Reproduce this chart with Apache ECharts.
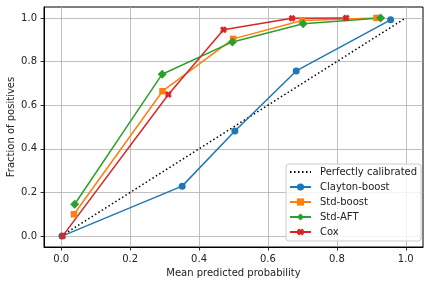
<!DOCTYPE html>
<html>
<head>
<meta charset="utf-8">
<script src="https://cdn.jsdelivr.net/npm/echarts@6/dist/echarts.min.js"></script>
<style>html,body{margin:0;padding:0;background:#fff;}#c{width:431px;height:285px;}</style>
</head>
<body>
<div id="c"></div>
<script>
var tickValues = [0.0, 0.2, 0.4, 0.6, 0.8, 1.0];
var seriesNames = ['Perfectly calibrated', 'Clayton-boost', 'Std-boost', 'Std-AFT', 'Cox'];
var perfect = [[0, 0], [1, 1]];
var clayton = [[0.002, 0.0], [0.351, 0.229], [0.504, 0.482], [0.682, 0.757], [0.956, 0.991]];
var stdBoost = [[0.037, 0.100], [0.294, 0.664], [0.499, 0.904], [0.699, 0.988], [0.915, 1.0]];
var stdAFT = [[0.039, 0.146], [0.293, 0.742], [0.497, 0.890], [0.702, 0.973], [0.927, 1.0]];
var cox = [[0.004, 0.0], [0.311, 0.649], [0.471, 0.946], [0.670, 0.998], [0.827, 1.0]];

var FONT = 'DejaVu Sans';
var xSymbol = 'path://M0,3 L3,0 L5,2 L7,0 L10,3 L8,5 L10,7 L7,10 L5,8 L3,10 L0,7 L2,5 Z';

function axisCommon() {
  return {
    type: 'value',
    min: -0.05,
    max: 1.05,
    axisLine: {show: true, onZero: false, lineStyle: {color: '#000', width: 1}},
    axisTick: {show: true, inside: false, length: 3.5, lineStyle: {color: '#000', width: 0.8}, customValues: tickValues},
    axisLabel: {color: '#222', fontFamily: FONT, fontSize: 10, customValues: tickValues,
      formatter: function (v) { return v.toFixed(1); }},
    splitLine: {show: true, lineStyle: {color: '#b0b0b0', width: 0.8}},
    nameLocation: 'middle',
    nameTextStyle: {color: '#222', fontFamily: FONT, fontSize: 10}
  };
}
var xAx = axisCommon();
xAx.name = 'Mean predicted probability';
xAx.nameGap = 21;
xAx.axisLabel.margin = 7;
var yAx = axisCommon();
yAx.name = 'Fraction of positives';
yAx.nameGap = 28;
yAx.nameMoveOverlap = false;
yAx.axisLabel.margin = 7;

function mk(name, data, color, symbol, size) {
  return {
    name: name, type: 'line', data: data,
    symbol: symbol, symbolSize: size, showSymbol: true,
    lineStyle: {color: color, width: 1.5},
    itemStyle: {color: color},
    emphasis: {disabled: true}
  };
}

var legendData = seriesNames.map(function (n, i) {
  return i === 0 ? {name: n, itemStyle: {opacity: 0}} : {name: n};
});

var chart = echarts.init(document.getElementById('c'), null, {renderer: 'canvas'});
chart.setOption({
  animation: false,
  backgroundColor: '#fff',
  grid: {left: 44, right: 8, top: 7, bottom: 38, show: true, borderColor: '#000', borderWidth: 1,
    containLabel: false, outerBoundsMode: 'none'},
  xAxis: xAx,
  yAxis: yAx,
  legend: {
    data: legendData,
    orient: 'vertical',
    left: 286, top: 164,
    padding: [2, 4, 3, 3],
    itemWidth: 21, itemHeight: 9, itemGap: 3,
    backgroundColor: 'rgba(255,255,255,0.8)',
    borderColor: '#cccccc', borderWidth: 1, borderRadius: 3,
    textStyle: {color: '#222', fontFamily: FONT, fontSize: 10, lineHeight: 12, padding: [0, 0, 0, 4]},
    selectedMode: false
  },
  series: [
    {
      name: 'Perfectly calibrated', type: 'line', data: perfect,
      symbol: 'none', showSymbol: false,
      lineStyle: {color: '#000', width: 1.5, type: [1.5, 2.5]},
      itemStyle: {color: '#000'},
      emphasis: {disabled: true}
    },
    mk('Clayton-boost', clayton, '#1f77b4', 'circle', 7),
    mk('Std-boost', stdBoost, '#ff7f0e', 'rect', 6.5),
    mk('Std-AFT', stdAFT, '#2ca02c', 'diamond', 9),
    mk('Cox', cox, '#d62728', xSymbol, 7)
  ]
});
</script>
</body>
</html>
